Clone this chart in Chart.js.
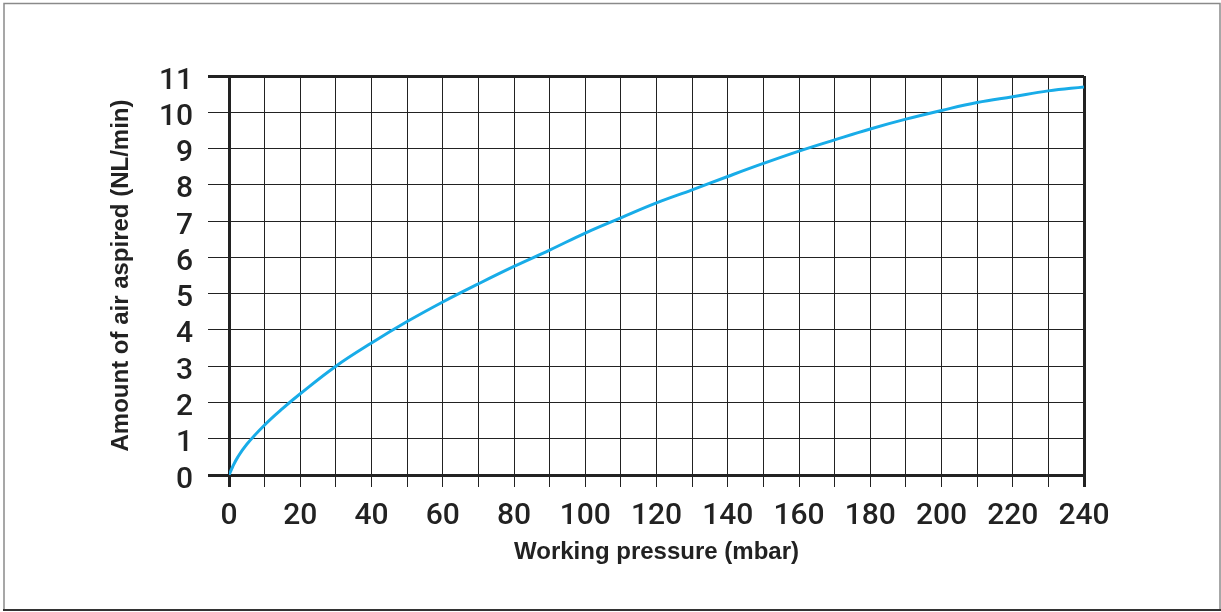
<!DOCTYPE html>
<html>
<head>
<meta charset="utf-8">
<script src="https://cdn.jsdelivr.net/npm/chart.js@4/dist/chart.umd.min.js"></script>
<style>
  body { margin: 0; background: #fff; }
  #wrap { width: 1221px; height: 612px; position: relative; }
</style>
</head>
<body>
<div id="wrap"><canvas id="airChart" width="1221" height="612"></canvas></div>
<script>
// working pressure (mbar) and aspired air (NL/min)
const pressure = [0, 1, 2.5, 5, 10, 15, 20, 30, 40, 50, 60, 70, 80, 90, 100, 110, 120,
    130, 140, 150, 160, 170, 180, 190, 200, 210, 220, 230, 240];
const airFlow = [0, 0.22, 0.5, 0.85, 1.38, 1.83, 2.24, 3.0, 3.64, 4.23, 4.77, 5.27, 5.75,
    6.2, 6.67, 7.09, 7.5, 7.86, 8.23, 8.59, 8.93, 9.24, 9.54, 9.81, 10.05, 10.27, 10.43, 10.59, 10.7];

const xMin = 0, xMax = 240, xStep = 10, xLabelStep = 20;
const yMin = 0, yMax = 11, yStep = 1;

const points = pressure.map((p, i) => ({ x: p, y: airFlow[i] }));

const ink = '#222';
const tickFont = { family: 'Roboto, "Liberation Sans"', size: 30, weight: 500 };

// outer frame round the whole picture
const framePlugin = {
    id: 'frame',
    afterDraw(chart) {
        const c = chart.ctx;
        c.save();
        c.strokeStyle = '#8a8a8a';
        c.lineWidth = 1.5;
        c.beginPath();
        c.moveTo(4, 610);
        c.lineTo(4, 3.5);
        c.lineTo(1220, 3.5);
        c.lineTo(1220, 610);
        c.stroke();
        c.strokeStyle = '#333';
        c.lineWidth = 2;
        c.beginPath();
        c.moveTo(3, 610);
        c.lineTo(1221, 610);
        c.stroke();
        c.restore();
    }
};

const ctx = document.getElementById('airChart').getContext('2d');

new Chart(ctx, {
    type: 'line',
    data: {
        datasets: [{
            data: points,
            borderColor: '#18ace8',
            borderWidth: 3,
            pointRadius: 0,
            tension: 0.4,
            fill: false
        }]
    },
    options: {
        responsive: false,
        animation: false,
        layout: { padding: { top: 76, right: 137, left: 0, bottom: 0 } },
        plugins: {
            legend: { display: false },
            tooltip: { enabled: false }
        },
        scales: {
            x: {
                type: 'linear',
                min: xMin,
                max: xMax,
                afterFit: (scale) => { scale.height = 137; },
                border: { display: true, color: ink, width: 3 },
                grid: {
                    color: ink,
                    tickLength: 12,
                    lineWidth: (c) => (c.tick && (c.tick.value === xMin || c.tick.value === xMax)) ? 3 : 1
                },
                ticks: {
                    stepSize: xStep,
                    autoSkip: false,
                    maxRotation: 0,
                    padding: 11,
                    color: ink,
                    font: tickFont,
                    callback: (v) => (v % xLabelStep === 0 ? v : '')
                },
                title: {
                    display: true,
                    text: 'Working pressure (mbar)',
                    color: ink,
                    font: { family: 'Liberation Sans', size: 24, weight: 'bold' },
                    padding: { bottom: 45, top: 0 }
                }
            },
            y: {
                min: yMin,
                max: yMax,
                afterFit: (scale) => { scale.width = 229; },
                border: { display: true, color: ink, width: 3 },
                grid: {
                    color: ink,
                    tickLength: 21,
                    lineWidth: (c) => (c.tick && (c.tick.value === yMin || c.tick.value === yMax)) ? 3 : 1
                },
                ticks: {
                    stepSize: yStep,
                    autoSkip: false,
                    padding: 15,
                    labelOffset: 5,
                    color: ink,
                    font: tickFont
                },
                title: {
                    display: true,
                    text: 'Amount of air aspired (NL/min)',
                    color: ink,
                    font: { family: 'Liberation Sans', size: 24, weight: 'bold' },
                    padding: { top: 107, bottom: 0 }
                }
            }
        }
    },
    plugins: [framePlugin]
});
</script>
</body>
</html>
